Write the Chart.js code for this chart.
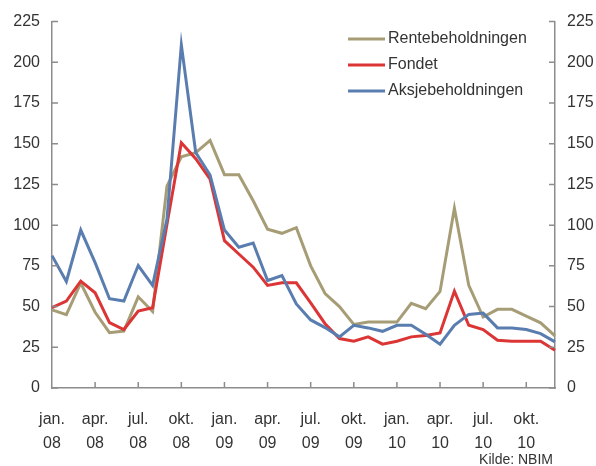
<!DOCTYPE html>
<html lang="no">
<head>
<meta charset="utf-8">
<title>Rentebeholdningen, Fondet, Aksjebeholdningen</title>
<script src="https://cdn.jsdelivr.net/npm/chart.js@4/dist/chart.umd.min.js"></script>
<style>
  html, body { margin: 0; padding: 0; background: #fff; }
  #wrap { position: relative; width: 596px; height: 466px; }
</style>
</head>
<body>
<div id="wrap"><canvas id="chart" width="596" height="466"></canvas></div>
<script>
// Månedlige verdier, jan. 08 - des. 10
const months = [
  'jan. 08', 'feb. 08', 'mar. 08', 'apr. 08', 'mai 08', 'jun. 08',
  'jul. 08', 'aug. 08', 'sep. 08', 'okt. 08', 'nov. 08', 'des. 08',
  'jan. 09', 'feb. 09', 'mar. 09', 'apr. 09', 'mai 09', 'jun. 09',
  'jul. 09', 'aug. 09', 'sep. 09', 'okt. 09', 'nov. 09', 'des. 09',
  'jan. 10', 'feb. 10', 'mar. 10', 'apr. 10', 'mai 10', 'jun. 10',
  'jul. 10', 'aug. 10', 'sep. 10', 'okt. 10', 'nov. 10', 'des. 10'
];

const rente = [
  48, 45, 64.5, 46.5, 34, 35, 56, 47, 124, 142, 144.5, 152,
  131, 131, 115, 97.5, 95, 98.5, 75, 58, 50, 39, 40.5, 40.5,
  40.5, 52, 48.7, 59.3, 110.4, 63, 43.6, 48.3, 48.3, 44.2, 40, 32
];

const fondet = [
  49.3, 53.4, 65.6, 58.5, 40.1, 35.9, 47.3, 49.3, 100.6, 150.6, 140.8, 128.2,
  90.5, 82.3, 74.2, 63, 64.6, 64.6, 52.3, 39.5, 30.4, 28.7, 31.4, 26.9,
  28.7, 31.4, 32.2, 33.8, 59.5, 38.5, 35.9, 29.3, 28.7, 28.7, 28.7, 23.2
];

const aksje = [
  81.3, 65.4, 97, 77, 54.8, 53.4, 75.2, 63, 103.7, 210.7, 144.6, 130.8,
  97, 86.4, 89, 66, 69, 51.6, 41.8, 37.1, 31.4, 38.5, 36.9, 34.8,
  38.5, 38.5, 33, 26.9, 38.5, 45.2, 46, 36.9, 36.9, 35.9, 33.4, 28.3
];

const yTicks = [0, 25, 50, 75, 100, 125, 150, 175, 200, 225];

const seriesNames = ['Rentebeholdningen', 'Fondet', 'Aksjebeholdningen'];
const seriesColors = ['#A69D76', '#DC3535', '#5A7DB0'];

const FONT = '"Liberation Sans", Arial, sans-serif';
const TEXT = '#333333';
const AXIS = '#8c8c8c';

/**
 * Draws inward tick marks, the legend and the source note.
 */
const decorations = {
  id: 'decorations',
  afterDraw(chart) {
    const { ctx, chartArea, scales } = chart;
    ctx.save();
    ctx.strokeStyle = AXIS;
    ctx.lineWidth = 1.5;
    ctx.beginPath();
    yTicks.forEach(v => {
      const y = scales.y.getPixelForValue(v);
      ctx.moveTo(chartArea.left, y);
      ctx.lineTo(chartArea.left + 6, y);
      ctx.moveTo(chartArea.right, y);
      ctx.lineTo(chartArea.right - 6, y);
    });
    months.forEach((m, i) => {
      if (i % 3 !== 0 || i === 0) return;
      const x = scales.x.getPixelForValue(i);
      ctx.moveTo(x, chartArea.bottom);
      ctx.lineTo(x, chartArea.bottom - 6);
    });
    ctx.stroke();

    // legend
    ctx.font = '16px ' + FONT;
    ctx.textBaseline = 'middle';
    ctx.fillStyle = TEXT;
    seriesNames.forEach((name, i) => {
      const y = 39 + i * 26;
      ctx.strokeStyle = seriesColors[i];
      ctx.lineWidth = 3;
      ctx.beginPath();
      ctx.moveTo(348, y);
      ctx.lineTo(385, y);
      ctx.stroke();
      ctx.fillText(name, 388, y);
    });

    ctx.font = '14px ' + FONT;
    ctx.textAlign = 'right';
    ctx.textBaseline = 'alphabetic';
    ctx.fillText('Kilde: NBIM', 553, 464);
    ctx.restore();
  }
};

/**
 * Makes the line chart.
 * @param {HTMLCanvasElement} canvas
 * @returns {Chart}
 */
function renderLineChart(canvas) {
  const series = [rente, fondet, aksje];
  const yAxis = (position, width) => ({
    position,
    min: 0,
    max: 225,
    afterBuildTicks: s => { s.ticks = yTicks.map(v => ({ value: v })); },
    afterFit: s => { s.width = width; },
    grid: { display: false, drawTicks: false },
    border: { display: true, color: AXIS, width: 1.5 },
    ticks: {
      padding: 12,
      color: TEXT,
      font: { size: 16, family: FONT }
    }
  });

  return new Chart(canvas, {
    type: 'line',
    data: {
      labels: months,
      datasets: series.map((data, i) => ({
        label: seriesNames[i],
        data,
        borderColor: seriesColors[i],
        borderWidth: 3,
        pointRadius: 0,
        tension: 0,
        order: 3 - i
      }))
    },
    options: {
      responsive: false,
      animation: false,
      layout: { padding: { top: 20 } },
      plugins: {
        legend: { display: false },
        tooltip: { enabled: false }
      },
      scales: {
        x: {
          offset: false,
          afterFit: s => { s.height = 78; },
          grid: { display: false, drawTicks: false },
          border: { display: true, color: AXIS, width: 1.5 },
          ticks: {
            autoSkip: false,
            maxRotation: 0,
            padding: 20,
            color: TEXT,
            font: { size: 16, family: FONT, lineHeight: 1.5 },
            callback: (value, index) => index % 3 === 0 ? months[index].split(' ') : ''
          }
        },
        y: yAxis('left', 52),
        y2: yAxis('right', 41)
      }
    },
    plugins: [decorations]
  });
}

/**
 * Starts everything.
 */
function init() {
  renderLineChart(document.getElementById('chart'));
}

init();
</script>
</body>
</html>
